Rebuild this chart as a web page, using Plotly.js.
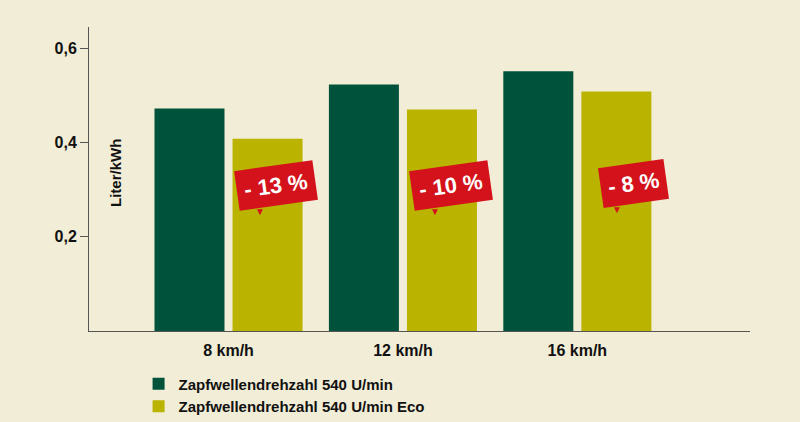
<!DOCTYPE html>
<html>
<head>
<meta charset="utf-8">
<script src="https://cdn.plot.ly/plotly-3.0.1.min.js"></script>
<style>
  html, body { margin: 0; padding: 0; background: #f2edd6; }
  #chart { width: 800px; height: 422px; }
</style>
</head>
<body>
<div id="chart"></div>
<script>
var speeds = ['8 km/h', '12 km/h', '16 km/h'];
var normal = [0.472, 0.523, 0.551];
var eco = [0.408, 0.470, 0.508];
var names = ['Zapfwellendrehzahl 540 U/min', 'Zapfwellendrehzahl 540 U/min Eco'];
var savings = ['- 13 %', '- 10 %', '- 8 %'];

var font = 'Liberation Sans, Arial, sans-serif';

var trace1 = {
  x: speeds,
  y: normal,
  name: '<b>' + names[0] + '</b>',
  type: 'bar',
  marker: { color: '#00533a' },
  hoverinfo: 'none'
};
var trace2 = {
  x: speeds,
  y: eco,
  name: '<b>' + names[1] + '</b>',
  type: 'bar',
  marker: { color: '#bab300' },
  hoverinfo: 'none'
};

// callout boxes sit over the eco bars
var shifts = [47, 48, 56];
var ys = [0.309, 0.309, 0.313];
var notes = [];
for (let i = 0; i < speeds.length; i++) {
  notes.push({
    x: speeds[i], y: ys[i], xref: 'x', yref: 'y',
    xshift: shifts[i],
    text: '<b>' + savings[i] + '</b>',
    showarrow: false,
    textangle: -8,
    bgcolor: '#d3121c',
    borderpad: 7,
    font: { family: font, size: 22, color: '#ffffff' }
  });
  notes.push({
    x: speeds[i], y: ys[i] - 0.056, xref: 'x', yref: 'y',
    xshift: shifts[i] - 16,
    text: '▼',
    showarrow: false,
    font: { family: font, size: 10, color: '#d3121c' }
  });
}
notes.push({
  x: 0.024, y: 0.336, xref: 'paper', yref: 'y',
  text: '<b>Liter/kWh</b>',
  textangle: -90,
  showarrow: false,
  font: { family: font, size: 15, color: '#111111' }
});

var layout = {
  width: 800,
  height: 422,
  paper_bgcolor: '#f2edd6',
  plot_bgcolor: '#f2edd6',
  margin: { l: 89, r: 50, t: 27, b: 91, autoexpand: false },
  separators: ',.',
  barmode: 'group',
  bargap: 0.105,
  bargroupgap: 0.103,
  showlegend: true,
  legend: {
    x: 0.075, y: -0.12, xanchor: 'left', yanchor: 'top',
    bgcolor: 'rgba(0,0,0,0)',
    font: { family: font, size: 15, color: '#111111' },
    traceorder: 'normal',
    itemclick: false
  },
  xaxis: {
    type: 'category',
    range: [-0.8, 2.99],
    showline: true,
    linecolor: '#555555',
    linewidth: 1,
    ticks: '',
    ticklabelstandoff: 5,
    tickfont: { family: font, size: 16, color: '#111111' },
    tickprefix: '<b>', ticksuffix: '</b>',
    fixedrange: true
  },
  yaxis: {
    range: [0, 0.645],
    tickvals: [0.2, 0.4, 0.6],
    ticktext: ['<b>0,2</b>', '<b>0,4</b>', '<b>0,6</b>'],
    showgrid: false,
    zeroline: false,
    showline: true,
    linecolor: '#555555',
    linewidth: 1,
    ticks: 'outside',
    ticklen: 8,
    tickcolor: '#555555',
    tickfont: { family: font, size: 16, color: '#111111' },
    fixedrange: true
  },
  annotations: notes
};

Plotly.newPlot('chart', [trace1, trace2], layout, { displayModeBar: false, staticPlot: true });
</script>
</body>
</html>
